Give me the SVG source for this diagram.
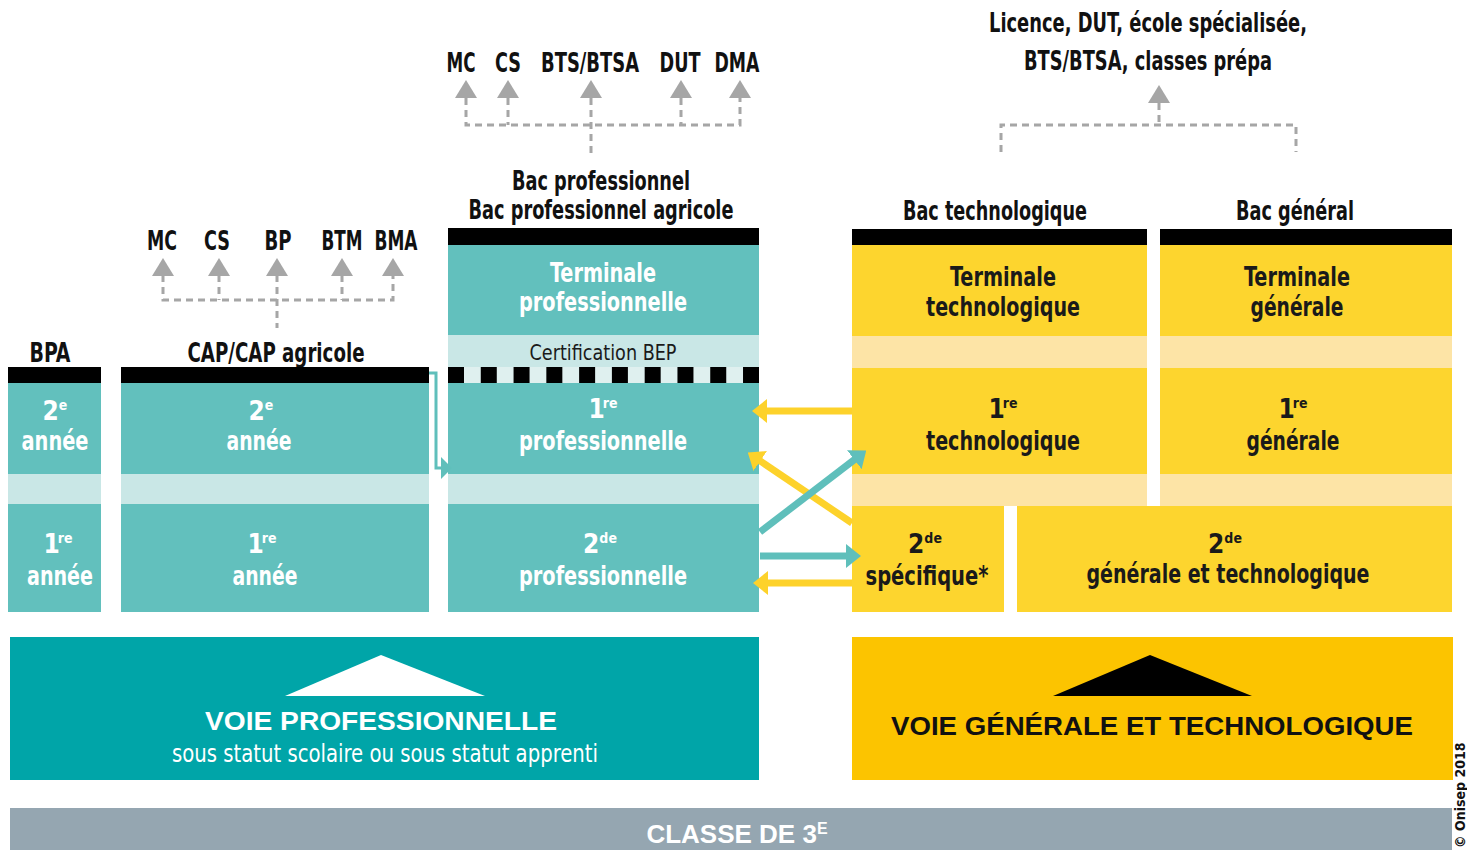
<svg xmlns="http://www.w3.org/2000/svg" width="1467" height="850" viewBox="0 0 1467 850">
<style>
text{font-family:"Liberation Sans Narrow","DejaVu Sans Condensed","Liberation Sans",sans-serif;text-anchor:middle;font-weight:bold}
.lb{font-size:26px;fill:#111}
.bw{font-size:26px;fill:#fff}
.bk{font-size:26px;fill:#1a1a1a}
.sup{font-size:14px}
.teal{fill:#62c0bd}
.tband{fill:#c9e7e6}
.yel{fill:#fdd52e}
.yband{fill:#fde4a6}
.bar{fill:#000}
.dash{fill:none;stroke:#a6a6a6;stroke-width:3;stroke-dasharray:7 5}
.ya{stroke:#fdd22b;stroke-width:7;fill:none}
.ta{stroke:#5fbfbb;stroke-width:7;fill:none}
.big{font-family:"Liberation Sans","DejaVu Sans",sans-serif;font-weight:bold;font-size:26px}
</style>
<defs>
<path id="ga" d="M0,0 L11,18 L-11,18 Z" fill="#a6a6a6"/>
<marker id="my" viewBox="0 -12 15 24" refX="1" refY="0" markerWidth="15" markerHeight="24" markerUnits="userSpaceOnUse" orient="auto"><path d="M0,-12 L15,0 L0,12 Z" fill="#fdd22b"/></marker>
<marker id="mt" viewBox="0 -12 15 24" refX="1" refY="0" markerWidth="15" markerHeight="24" markerUnits="userSpaceOnUse" orient="auto"><path d="M0,-12 L15,0 L0,12 Z" fill="#5fbfbb"/></marker>
<marker id="mts" viewBox="0 -11 11 22" refX="1" refY="0" markerWidth="11" markerHeight="22" markerUnits="userSpaceOnUse" orient="auto"><path d="M0,-11 L11,0 L0,11 Z" fill="#5fbfbb"/></marker>
</defs>
<rect width="1467" height="850" fill="#fff"/>

<g id="sorties-cap">
<text class="lb" x="162" y="250" textLength="30" lengthAdjust="spacingAndGlyphs">MC</text>
<text class="lb" x="217" y="250" textLength="26" lengthAdjust="spacingAndGlyphs">CS</text>
<text class="lb" x="278" y="250" textLength="27" lengthAdjust="spacingAndGlyphs">BP</text>
<text class="lb" x="342" y="250" textLength="41" lengthAdjust="spacingAndGlyphs">BTM</text>
<text class="lb" x="396" y="250" textLength="43" lengthAdjust="spacingAndGlyphs">BMA</text>
</g>
<g id="sorties-bacpro">
<text class="lb" x="461" y="72" textLength="29" lengthAdjust="spacingAndGlyphs">MC</text>
<text class="lb" x="508" y="72" textLength="26" lengthAdjust="spacingAndGlyphs">CS</text>
<text class="lb" x="590" y="72" textLength="98" lengthAdjust="spacingAndGlyphs">BTS/BTSA</text>
<text class="lb" x="680" y="72" textLength="41" lengthAdjust="spacingAndGlyphs">DUT</text>
<text class="lb" x="737" y="72" textLength="45" lengthAdjust="spacingAndGlyphs">DMA</text>
</g>
<g id="sorties-gt">
<text class="lb" x="1148" y="32" textLength="318" lengthAdjust="spacingAndGlyphs">Licence, DUT, école spécialisée,</text>
<text class="lb" x="1148" y="70" textLength="248" lengthAdjust="spacingAndGlyphs">BTS/BTSA, classes prépa</text>
</g>

<g id="bpa">
<text class="lb" x="50" y="362" textLength="41" lengthAdjust="spacingAndGlyphs">BPA</text>
<rect class="bar" x="8" y="367" width="93" height="16"/>
<rect class="teal" x="8" y="383" width="93" height="91"/>
<rect class="tband" x="8" y="474" width="93" height="30"/>
<rect class="teal" x="8" y="504" width="93" height="108"/>
<text class="bw" x="55" y="420">2<tspan class="sup" dy="-10">e</tspan></text>
<text class="bw" x="55" y="450" textLength="67" lengthAdjust="spacingAndGlyphs">année</text>
<text class="bw" x="58" y="553">1<tspan class="sup" dy="-10" dx="-2">re</tspan></text>
<text class="bw" x="60" y="585" textLength="66" lengthAdjust="spacingAndGlyphs">année</text>
</g>

<g id="cap">
<text class="lb" x="276" y="362" textLength="177" lengthAdjust="spacingAndGlyphs">CAP/CAP agricole</text>
<rect class="bar" x="121" y="367" width="308" height="16"/>
<rect class="teal" x="121" y="383" width="308" height="91"/>
<rect class="tband" x="121" y="474" width="308" height="30"/>
<rect class="teal" x="121" y="504" width="308" height="108"/>
<text class="bw" x="261" y="420">2<tspan class="sup" dy="-10">e</tspan></text>
<text class="bw" x="259" y="450" textLength="65" lengthAdjust="spacingAndGlyphs">année</text>
<text class="bw" x="262" y="553">1<tspan class="sup" dy="-10" dx="-2">re</tspan></text>
<text class="bw" x="265" y="585" textLength="65" lengthAdjust="spacingAndGlyphs">année</text>
</g>

<g id="bacpro">
<text class="lb" x="601" y="190" textLength="178" lengthAdjust="spacingAndGlyphs">Bac professionnel</text>
<text class="lb" x="601" y="219" textLength="265" lengthAdjust="spacingAndGlyphs">Bac professionnel agricole</text>
<rect class="bar" x="448" y="228" width="311" height="17"/>
<rect class="teal" x="448" y="245" width="311" height="90"/>
<rect class="tband" x="448" y="335" width="311" height="32"/>
<rect fill="#dff0ef" x="448" y="367" width="311" height="16"/>
<line x1="448" y1="375" x2="759" y2="375" stroke="#000" stroke-width="16" stroke-dasharray="16 16.78"/>
<rect class="teal" x="448" y="383" width="311" height="91"/>
<rect class="tband" x="448" y="474" width="311" height="30"/>
<rect class="teal" x="448" y="504" width="311" height="108"/>
<text class="bw" x="603" y="282" textLength="106" lengthAdjust="spacingAndGlyphs">Terminale</text>
<text class="bw" x="603" y="311" textLength="168" lengthAdjust="spacingAndGlyphs">professionnelle</text>
<text x="603" y="360" font-size="22" fill="#1a1a1a" style="font-weight:normal" textLength="147" lengthAdjust="spacingAndGlyphs">Certification BEP</text>
<text class="bw" x="603" y="418">1<tspan class="sup" dy="-10" dx="-2">re</tspan></text>
<text class="bw" x="603" y="450" textLength="168" lengthAdjust="spacingAndGlyphs">professionnelle</text>
<text class="bw" x="600" y="553">2<tspan class="sup" dy="-10">de</tspan></text>
<text class="bw" x="603" y="585" textLength="168" lengthAdjust="spacingAndGlyphs">professionnelle</text>
</g>

<g id="bactechno">
<text class="lb" x="995" y="220" textLength="184" lengthAdjust="spacingAndGlyphs">Bac technologique</text>
<rect class="bar" x="852" y="229" width="295" height="16"/>
<rect class="yel" x="852" y="245" width="295" height="91"/>
<rect class="yband" x="852" y="336" width="295" height="32"/>
<rect class="yel" x="852" y="368" width="295" height="106"/>
<rect class="yband" x="852" y="474" width="295" height="32"/>
<text class="bk" x="1003" y="286" textLength="106" lengthAdjust="spacingAndGlyphs">Terminale</text>
<text class="bk" x="1003" y="316" textLength="154" lengthAdjust="spacingAndGlyphs">technologique</text>
<text class="bk" x="1003" y="418">1<tspan class="sup" dy="-10" dx="-2">re</tspan></text>
<text class="bk" x="1003" y="450" textLength="154" lengthAdjust="spacingAndGlyphs">technologique</text>
</g>

<g id="bacgeneral">
<text class="lb" x="1295" y="220" textLength="118" lengthAdjust="spacingAndGlyphs">Bac général</text>
<rect class="bar" x="1160" y="229" width="292" height="16"/>
<rect class="yel" x="1160" y="245" width="292" height="91"/>
<rect class="yband" x="1160" y="336" width="292" height="32"/>
<rect class="yel" x="1160" y="368" width="292" height="106"/>
<rect class="yband" x="1160" y="474" width="292" height="32"/>
<text class="bk" x="1297" y="286" textLength="106" lengthAdjust="spacingAndGlyphs">Terminale</text>
<text class="bk" x="1297" y="316" textLength="93" lengthAdjust="spacingAndGlyphs">générale</text>
<text class="bk" x="1293" y="418">1<tspan class="sup" dy="-10" dx="-2">re</tspan></text>
<text class="bk" x="1293" y="450" textLength="93" lengthAdjust="spacingAndGlyphs">générale</text>
</g>

<g id="seconde-specifique">
<rect class="yel" x="852" y="506" width="152" height="106"/>
<text class="bk" x="925" y="553">2<tspan class="sup" dy="-10">de</tspan></text>
<text class="bk" x="927" y="585" textLength="123" lengthAdjust="spacingAndGlyphs">spécifique*</text>
</g>

<g id="seconde-gt">
<rect class="yel" x="1017" y="506" width="435" height="106"/>
<text class="bk" x="1225" y="553">2<tspan class="sup" dy="-10">de</tspan></text>
<text class="bk" x="1228" y="583" textLength="283" lengthAdjust="spacingAndGlyphs">générale et technologique</text>
</g>

<g id="voie-pro">
<rect x="10" y="637" width="749" height="143" fill="#00a5a8"/>
<polygon points="381,655 485,696 285,696" fill="#fff"/>
<text class="big" x="381" y="730" fill="#fff" textLength="352" lengthAdjust="spacingAndGlyphs">VOIE PROFESSIONNELLE</text>
<text x="385" y="762" font-size="25" fill="#fff" style="font-weight:normal" textLength="426" lengthAdjust="spacingAndGlyphs">sous statut scolaire ou sous statut apprenti</text>
</g>

<g id="voie-gt">
<rect x="852" y="637" width="601" height="143" fill="#fcc400"/>
<polygon points="1150,655 1252,696 1053,696" fill="#000"/>
<text class="big" x="1152" y="735" fill="#111" textLength="522" lengthAdjust="spacingAndGlyphs">VOIE GÉNÉRALE ET TECHNOLOGIQUE</text>
</g>

<g id="classe3">
<rect x="10" y="808" width="1442" height="50" fill="#95a6b1"/>
<text class="big" x="737" y="843" fill="#fff" font-size="25">CLASSE DE 3<tspan font-size="16" dy="-9">E</tspan></text>
</g>

<g id="connectors">
<polyline class="dash" points="163,275 163,300 393,300 393,275"/>
<line class="dash" x1="219" y1="275" x2="219" y2="300"/>
<line class="dash" x1="342" y1="275" x2="342" y2="300"/>
<line class="dash" x1="277" y1="275" x2="277" y2="328"/>
<use href="#ga" x="163" y="258"/>
<use href="#ga" x="219" y="258"/>
<use href="#ga" x="277" y="258"/>
<use href="#ga" x="342" y="258"/>
<use href="#ga" x="393" y="258"/>

<polyline class="dash" points="466,98 466,125 740,125 740,98"/>
<line class="dash" x1="508" y1="98" x2="508" y2="125"/>
<line class="dash" x1="681" y1="98" x2="681" y2="125"/>
<line class="dash" x1="591" y1="98" x2="591" y2="156"/>
<use href="#ga" x="466" y="80"/>
<use href="#ga" x="508" y="80"/>
<use href="#ga" x="591" y="80"/>
<use href="#ga" x="681" y="80"/>
<use href="#ga" x="740" y="80"/>

<polyline class="dash" points="1001,152 1001,125 1296,125 1296,152"/>
<line class="dash" x1="1159" y1="103" x2="1159" y2="125"/>
<use href="#ga" x="1159" y="85"/>

<path d="M429,373 H436 V468 H442" fill="none" stroke="#5fbfbb" stroke-width="3" marker-end="url(#mts)"/>

<line class="ya" x1="852" y1="411" x2="766" y2="411" marker-end="url(#my)"/>
<line class="ya" x1="852" y1="523" x2="759.4" y2="460.4" marker-end="url(#my)"/>
<line class="ta" x1="760" y1="532" x2="855.1" y2="459.1" marker-end="url(#mt)"/>
<line class="ta" x1="760" y1="556" x2="847" y2="556" marker-end="url(#mt)"/>
<line class="ya" x1="852" y1="583" x2="767" y2="583" marker-end="url(#my)"/>
</g>

<text transform="translate(1467,848) rotate(-90)" x="0" y="-2" font-family="Liberation Sans, sans-serif" font-weight="bold" font-size="14" fill="#111" style="text-anchor:start">© Onisep 2018</text>
</svg>
